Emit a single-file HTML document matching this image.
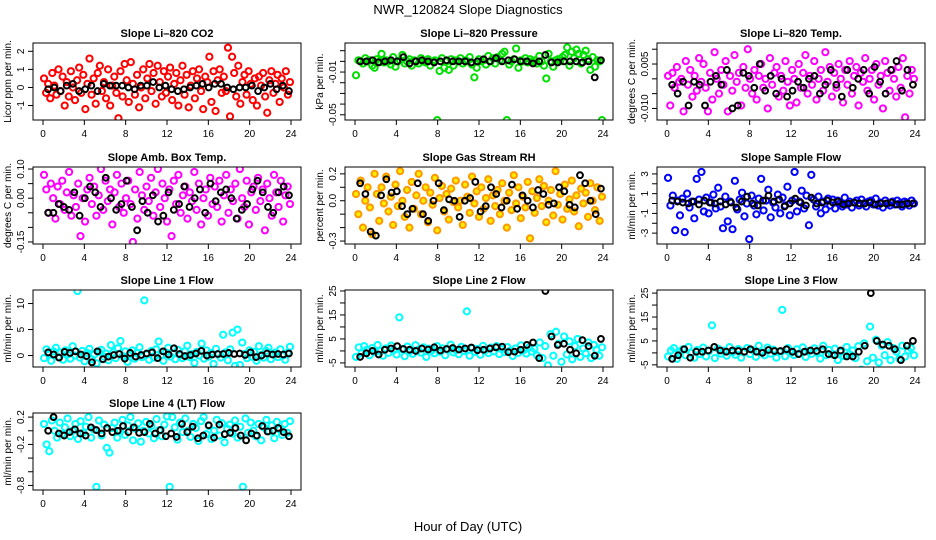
<!DOCTYPE html>
<html><head><meta charset="utf-8"><style>
html,body{margin:0;padding:0;background:#fff;}
svg{display:block;font-family:"Liberation Sans",Arial,sans-serif;}
</style></head><body>
<svg id="chart" width="936" height="540" viewBox="0 0 936 540" xmlns="http://www.w3.org/2000/svg">
<text x="468" y="14" text-anchor="middle" font-size="13">NWR_120824  Slope Diagnostics</text>
<text x="468" y="531" text-anchor="middle" font-size="13">Hour of Day (UTC)</text>
</svg>
<script>
// ---- data ----
const c1=[0.5,-0.3,0.2,-0.6,0.8,0.1,-0.4,1.0,-0.2,0.6,-1.0,0.3,-0.5,0.9,0.0,-0.7,0.4,1.1,-0.3,0.7,-1.2,0.2,1.6,-0.4,0.5,-0.9,0.8,1.2,-0.2,0.3,-0.6,1.0,-1.0,0.1,0.6,-0.3,-1.7,0.9,-0.5,1.3,0.4,-0.8,1.4,0.2,-0.4,0.7,-1.1,0.0,1.0,-0.6,0.5,1.3,-0.2,0.8,-0.9,1.2,0.3,-0.5,0.9,-0.3,0.6,1.1,-0.7,0.2,0.8,-1.0,0.4,1.2,-0.4,0.7,-1.1,0.1,0.9,-0.6,0.5,1.0,-0.2,-1.2,0.6,0.3,1.7,-0.8,0.9,-1.3,0.4,1.0,-0.3,0.6,-0.2,2.2,-1.6,1.7,0.8,-0.5,1.2,-0.9,0.3,0.7,-0.4,0.9,0.2,-0.7,0.5,-1.0,0.6,0.1,0.8,-0.5,-1.4,0.4,0.9,-0.3,0.2,0.7,-0.8,0.5,0.0,0.9,-0.4,0.3];
const b1=[-0.1,0.0,-0.2,0.1,0.2,-0.2,-0.1,0.1,-0.2,0.2,0.1,0.1,0.1,0.0,-0.1,0.1,0.1,0.3,0.0,0.1,-0.1,-0.2,-0.1,0.0,0.1,0.2,0.0,0.2,0.2,0.0,-0.1,0.0,0.0,0.1,-0.2,0.0,0.2,-0.1,0.1,-0.2];
const c2=[-0.013,0.001,0.0,-0.002,0.003,0.0,0.001,-0.004,-0.006,0.002,0.0,0.007,-0.001,0.001,0.0,-0.003,0.004,-0.005,0.0,0.001,0.006,-0.002,0.0,0.002,-0.004,0.001,0.0,-0.002,0.003,0.0,-0.001,0.002,-0.004,0.0,0.001,-0.055,-0.009,0.003,-0.006,0.0,-0.008,0.002,-0.004,0.001,0.0,0.003,-0.002,0.001,0.0,0.004,-0.003,-0.015,-0.006,0.002,0.0,0.001,-0.003,0.005,0.0,0.003,-0.002,0.004,0.001,0.007,0.009,-0.055,-0.003,0.0,0.002,0.012,-0.006,0.001,0.0,0.003,-0.001,0.002,0.0,0.001,-0.002,0.005,0.0,-0.004,-0.016,0.007,0.0,-0.005,0.001,0.002,0.0,0.004,0.006,0.013,-0.004,0.009,0.003,0.011,0.007,-0.002,0.006,0.010,0.002,-0.008,0.004,-0.005,0.001,0.0,-0.055];
const b2=[0.0,0.0,0.001,-0.001,0.0,0.001,0.0,0.004,-0.002,0.0,0.001,0.0,-0.001,0.0,0.001,0.0,0.0,0.0,-0.001,0.0,0.002,0.0,0.003,0.0,0.001,0.002,0.0,0.0,-0.002,0.0,0.006,-0.001,-0.001,0.0,0.0,0.0,-0.001,0.0,-0.015,0.001];
const c3=[0.001,-0.009,0.002,-0.003,0.004,-0.001,0.0,-0.011,0.006,-0.002,0.003,-0.006,0.001,-0.004,0.007,-0.001,0.005,-0.003,-0.011,0.002,-0.007,0.009,0.0,-0.005,0.003,-0.002,0.006,-0.011,0.001,-0.004,0.008,-0.001,0.002,-0.009,0.004,-0.003,0.010,0.0,-0.005,0.003,-0.007,0.001,0.005,-0.003,0.0,-0.010,0.007,-0.002,0.002,0.004,-0.006,0.001,-0.004,0.006,-0.001,-0.009,0.003,0.0,-0.008,0.005,-0.003,0.002,0.008,-0.005,0.001,-0.002,0.006,-0.007,0.0,0.003,-0.004,0.009,-0.001,0.004,-0.006,0.002,-0.003,0.005,0.0,-0.008,0.003,-0.002,0.006,-0.005,0.001,0.004,-0.009,0.002,-0.001,0.007,-0.004,0.0,0.003,-0.007,0.005,-0.002,0.001,-0.010,0.006,0.002,-0.004,0.003,0.0,-0.006,0.004,-0.003,0.007,-0.013,0.001,-0.005,0.003,0.0];
const b3=[-0.002,-0.005,-0.001,-0.009,-0.001,-0.002,-0.009,-0.001,0.001,-0.002,0.003,-0.010,-0.009,0.002,0.001,-0.003,0.005,-0.004,0.001,-0.005,0.0,-0.006,-0.004,-0.001,-0.003,0.0,0.001,-0.005,-0.002,0.003,-0.002,-0.006,0.003,-0.003,0.0,0.003,-0.005,0.004,-0.001,-0.005,0.003,0.006,-0.004,0.003,-0.002];
const c4=[0.08,0.03,-0.05,0.05,0.0,-0.07,0.04,-0.02,0.06,-0.04,0.02,0.09,-0.06,0.01,-0.03,0.05,-0.13,0.0,-0.08,0.03,0.07,-0.02,0.04,-0.06,0.01,0.10,-0.04,0.06,-0.01,0.03,-0.09,0.02,0.08,-0.03,0.05,-0.05,0.0,0.06,-0.02,-0.15,0.03,-0.07,0.09,0.01,-0.04,0.04,-0.01,0.07,-0.06,0.02,0.10,-0.03,0.05,0.0,-0.08,0.03,-0.13,0.06,-0.02,0.08,-0.05,0.01,0.04,-0.07,0.02,-0.01,0.09,-0.04,0.05,-0.09,0.0,0.03,-0.06,0.07,-0.02,0.04,-0.03,0.06,-0.08,0.01,0.08,-0.05,0.03,-0.01,0.05,-0.07,0.10,0.0,-0.03,0.06,-0.09,0.02,0.04,-0.04,0.07,-0.01,0.03,-0.11,0.05,0.0,-0.06,0.08,0.02,-0.03,0.06,-0.08,0.01,0.04,-0.02];
const b4=[-0.05,-0.05,-0.02,-0.03,-0.04,0.02,-0.06,0.0,0.04,0.02,-0.03,0.07,0.0,-0.04,-0.02,0.06,-0.03,-0.11,-0.01,-0.05,0.01,-0.08,-0.06,0.02,-0.04,-0.02,0.04,-0.03,0.0,0.03,-0.05,0.05,-0.01,0.02,0.03,0.0,-0.07,-0.04,-0.02,0.03,0.06,0.02,-0.03,-0.05,0.02,0.04,0.01];
const c5=[0.05,-0.1,0.15,-0.2,0.0,0.1,-0.05,-0.25,0.2,0.05,-0.15,0.1,-0.02,0.18,-0.08,0.03,-0.18,0.12,-0.04,0.22,0.0,-0.12,0.08,-0.2,0.14,-0.06,0.04,0.2,-0.1,0.0,0.1,-0.16,0.06,-0.03,0.17,-0.22,0.02,0.11,-0.08,0.05,-0.14,0.09,-0.01,0.15,-0.05,0.0,-0.18,0.12,0.03,-0.09,0.18,-0.02,0.07,-0.12,0.1,-0.06,0.02,0.16,-0.15,0.04,-0.04,0.08,-0.1,0.13,0.0,-0.2,0.06,-0.07,0.19,-0.02,0.1,-0.13,0.03,-0.05,0.14,-0.28,0.07,-0.09,0.02,0.16,-0.04,0.11,-0.16,0.0,0.08,-0.11,0.22,-0.03,0.05,-0.14,0.12,-0.06,0.01,0.15,-0.08,0.04,-0.19,0.09,-0.02,0.06,-0.12,0.13,0.0,-0.07,0.1,-0.15,0.03];
const b5=[0.13,0.05,-0.23,-0.26,0.04,0.16,0.06,0.07,-0.04,-0.1,-0.06,0.13,-0.1,-0.15,0.0,0.13,-0.07,0.01,0.0,-0.12,0.0,0.02,0.14,-0.08,-0.04,0.1,0.05,-0.05,0.0,0.12,-0.06,0.04,0.0,-0.05,0.08,0.05,-0.03,-0.02,0.1,0.07,-0.03,-0.05,0.19,0.13,0.0,-0.1,0.09];
const c6=[2.6,-0.2,0.8,-2.7,0.3,-1.2,0.5,-2.9,1.0,-0.4,0.2,-1.5,2.5,0.4,3.2,-0.8,0.6,-1.0,0.1,0.9,-0.5,1.6,-0.3,-2.5,0.7,-1.8,0.2,-2.6,2.3,-0.6,0.4,1.1,-1.3,0.0,-3.6,0.8,-0.2,-1.1,0.5,2.5,-0.7,0.3,1.4,-1.4,0.1,-0.4,0.9,-1.0,0.6,-0.2,1.7,-1.2,0.3,3.2,-0.8,0.2,1.3,-0.5,0.8,-2.2,2.9,0.4,-0.3,0.7,-1.0,0.2,-0.6,0.5,-0.2,0.4,-0.5,0.3,0.0,-0.3,0.6,-0.1,0.2,-0.4,0.1,0.3,-0.2,0.4,0.0,-0.3,0.2,0.3,-0.1,0.5,-0.2,0.1,-0.4,0.3,0.0,-0.2,0.2,-0.1,0.3,0.0,-0.3,0.2,0.1,-0.2,0.3,0.0];
const b6=[0.3,0.2,0.1,0.0,0.2,-0.1,0.3,0.1,0.0,0.2,-0.1,0.1,-0.4,0.2,0.7,0.0,-0.2,0.3,0.8,0.2,0.4,-0.3,0.0,0.5,0.1,-0.2,0.6,0.0,0.1,0.3,0.1,0.2,-0.1,0.0,0.1,0.0,0.0,0.1,-0.1,0.0,0.0,0.1,-0.1,-0.1,0.0,0.0];
const c7=[-0.5,1.2,0.3,-1.0,0.8,1.5,-0.3,0.6,-0.8,1.0,0.2,-0.6,1.8,0.0,12.4,-0.4,0.9,-1.1,0.5,1.3,-0.7,0.2,-1.5,0.7,1.1,-0.2,0.4,-0.9,2.0,0.6,-0.5,1.4,2.8,-0.1,0.8,-1.2,0.3,1.0,-0.6,0.5,1.6,-0.3,10.6,0.2,-0.8,0.9,-0.4,1.2,2.7,0.0,-1.0,0.6,1.5,-0.2,0.4,-0.7,1.1,0.1,-0.5,0.8,1.9,-0.3,0.3,-1.4,0.7,0.0,2.3,-0.6,1.0,-0.2,0.5,-1.6,1.3,0.2,-0.4,4.0,0.6,-0.9,1.2,4.4,-2.0,5.0,-1.8,2.5,0.3,-0.5,1.0,-0.2,0.7,-1.0,1.8,0.1,-0.4,0.9,1.5,-0.7,0.3,0.6,-0.3,1.2,0.0,-0.8,0.5,1.7];
const b7=[0.6,0.2,-0.4,0.7,0.5,0.8,0.2,-0.1,-1.3,0.8,-0.7,-0.2,0.1,0.3,-0.6,0.5,-0.2,0.1,0.4,0.6,-0.5,0.8,0.2,1.4,0.3,-0.1,0.1,0.4,0.9,0.0,0.2,0.3,0.3,0.5,0.3,0.4,0.1,0.6,-0.3,0.0,0.4,0.2,0.3,0.2,0.4];
const c8=[-2.5,1.5,-1.0,2.0,0.5,-1.8,1.2,-0.5,2.5,0.0,-2.0,1.0,-0.8,2.2,0.3,-1.5,14.0,0.8,-2.2,1.8,0.0,-1.2,2.4,0.5,-0.7,1.5,-2.5,0.9,0.2,-1.0,2.0,-0.3,1.1,-1.8,0.6,2.6,-0.6,0.3,-1.4,1.7,0.0,16.5,-2.0,1.2,-0.4,0.8,-1.6,2.1,0.4,-0.9,1.4,-0.2,2.0,-1.3,0.7,-0.5,1.6,0.1,-2.1,1.0,-0.8,2.3,0.3,-1.1,1.5,-0.3,0.9,-1.9,3.5,-3.0,2.0,-6.0,7.0,-2.0,8.0,3.0,-4.5,6.0,-1.5,4.0,-3.5,2.0,5.0,-2.5,1.0,-1.0,3.5,-3.0,2.5,0.5,-2.0,1.5];
const b8=[-2.5,-1.0,0.0,-1.5,0.5,1.0,2.0,0.8,0.5,0.0,1.0,0.6,1.5,0.2,0.8,1.2,0.6,1.0,1.4,0.3,0.5,1.0,1.5,1.8,-0.5,-0.3,0.5,2.5,3.5,-3.0,25.0,6.0,2.5,3.0,0.5,-1.0,4.5,2.0,-2.0,5.0];
const c9=[-1.5,1.0,2.0,-2.5,0.5,1.5,-1.0,2.5,0.0,-2.0,1.2,-0.5,2.2,-1.5,0.8,11.5,-2.2,1.8,-0.3,0.9,-1.2,2.4,0.3,-0.8,1.6,-2.0,0.6,2.0,-0.5,1.1,-1.6,3.0,0.2,-1.0,2.2,-0.3,1.3,-2.0,0.6,18.0,-1.4,2.0,0.1,-0.9,1.5,-0.2,2.3,-1.7,0.7,-0.4,1.9,0.0,-2.4,3.0,-1.0,1.2,-0.6,1.8,-3.0,0.4,-1.3,2.5,-0.5,1.0,-2.2,2.8,-7.0,4.0,-3.5,11.0,-2.0,5.5,-4.0,3.0,-1.0,4.5,-3.0,2.0,0.5,-2.5,3.0,-1.5,1.0,2.0,-1.0];
const b9=[-2.5,-1.0,1.5,-2.0,0.5,0.5,1.0,2.5,1.0,0.5,1.0,0.8,0.5,1.5,0.5,0.0,1.2,0.8,0.8,1.5,0.5,-0.5,0.5,1.0,0.8,1.5,-0.5,-1.0,1.0,-1.5,-1.5,0.5,3.0,25.0,5.0,3.5,3.0,1.5,-3.0,3.0,5.0];
const c10=[0.1,-0.2,-0.3,0.15,0.0,-0.1,0.12,-0.05,0.05,0.18,-0.08,0.0,0.1,-0.12,0.14,-0.03,0.06,0.2,-0.1,0.02,-0.82,0.15,-0.07,0.09,-0.25,-0.32,0.04,0.12,-0.1,0.0,0.16,-0.06,0.08,0.2,-0.14,0.03,0.11,-0.16,0.0,0.13,-0.04,0.07,-0.11,0.17,0.01,-0.08,0.09,0.21,-0.82,0.2,0.05,-0.13,0.12,-0.02,0.18,0.0,-0.09,0.1,0.04,-0.15,0.14,0.2,-0.05,0.07,-0.12,0.0,0.16,-0.07,0.11,-0.17,0.03,0.09,-0.04,0.15,-0.1,0.06,-0.82,0.18,-0.03,0.12,0.0,-0.08,0.1,-0.14,0.05,0.16,-0.01,0.08,-0.11,0.13,0.02,-0.06,0.1,-0.03,0.14];
const b10=[0.0,0.2,-0.04,-0.07,-0.02,0.02,-0.04,-0.07,0.05,0.01,-0.04,0.04,-0.02,0.0,0.07,-0.02,0.05,-0.03,-0.02,0.1,-0.04,0.01,-0.08,-0.04,-0.09,0.1,-0.02,0.06,-0.11,-0.07,0.08,-0.1,0.09,-0.05,-0.03,0.04,-0.07,-0.14,-0.04,-0.07,0.07,-0.01,0.0,0.04,-0.02,-0.08];
const xTicks=[0,4,8,12,16,20,24];
const titles=["Slope Li\u2013820 CO2","Slope Li\u2013820 Pressure","Slope Li\u2013820 Temp.","Slope Amb. Box Temp.","Slope Gas Stream RH","Slope Sample Flow","Slope Line 1 Flow","Slope Line 2 Flow","Slope Line 3 Flow","Slope Line 4 (LT) Flow"];
const ylabs=["Licor ppm per min.","kPa per min.","degrees C per min.","degrees C per min.","percent per min.","ml/min per min.","ml/min per min.","ml/min per min.","ml/min per min.","ml/min per min."];
const yTicks=[[-1,0,1,2],[0.01,0,-0.01,-0.02,-0.03,-0.04,-0.05],[0.01,0.005,0,-0.005,-0.01],[0.1,0.05,0,-0.05,-0.1,-0.15],[0.2,0.1,0,-0.1,-0.2,-0.3],[3,2,1,0,-1,-2,-3],[10,5,0],[25,20,15,10,5,0,-5],[25,20,15,10,5,0,-5],[0.2,0,-0.2,-0.4,-0.6,-0.8]];
const yTickLabels=[["-1","0","1","2"],["","","-0.01","","","","-0.05"],["","0.005","","","-0.010"],["0.10","","0.00","","","-0.15"],["0.2","","0.0","","","-0.3"],["3","","1","","-1","","-3"],["10","5","0"],["25","","15","","5","","-5"],["25","","15","","5","","-5"],["0.2","","-0.2","","","-0.8"]];
const colored=[c1,c2,c3,c4,c5,c6,c7,c8,c9,c10];
const means=[b1,b2,b3,b4,b5,b6,b7,b8,b9,b10];
// ---- layout (not data) ----
const ylims=[[-1.8,2.46],[-0.0549,0.0172],[-0.0139,0.0121],[-0.157,0.107],[-0.322,0.251],[-4.1,3.7],[-2.2,12.6],[-6.7,25.4],[-5.9,26.3],[-0.867,0.26]];
const colL=[33,345,657], colW=268, rowT=[43,167,290,413], rowH=77;
const colors=["#ff0000","#00e000","#ff00ff","#ff00ff","#ff9900","#0000ff","#00ffff","#00ffff","#00ffff","#00ffff"];
const svg=document.getElementById('chart');
const NS="http://www.w3.org/2000/svg";
function mk(tag,attrs,parent){const e=document.createElementNS(NS,tag);for(const k in attrs)e.setAttribute(k,attrs[k]);(parent||svg).appendChild(e);return e;}
for(let p=0;p<10;p++){
  const L=colL[p%3], T=rowT[Math.floor(p/3)], W=colW, H=rowH;
  const g=mk('g',{});
  
  
  const xs=h=>L+10+(h/24)*(W-20);
  const [y0,y1]=ylims[p];
  const ys=v=>T+H-(v-y0)/(y1-y0)*H;
  const clip=mk('clipPath',{id:'cl'+p},g);mk('rect',{x:L,y:T,width:W,height:H},clip);
  const pts=mk('g',{'clip-path':'url(#cl'+p+')'},g);
  
  
  const cv=colored[p];
  cv.forEach((v,i)=>{const h=0.1+i*23.8/(cv.length-1);
    const c=mk('circle',{cx:xs(h),cy:ys(v),r:3.1,fill:p==4?'#ffee00':'none',stroke:colors[p],'stroke-width':2},pts);
    
    });
  const bv=means[p];
  bv.forEach((v,i)=>{const h=0.5+i*23.3/(bv.length-1);
    const c=mk('circle',{cx:xs(h),cy:ys(v),r:2.9,fill:'none',stroke:'#000','stroke-width':2},pts);
    
    });
  const box=mk('rect',{x:L,y:T,width:W,height:H,fill:'none',stroke:'#000','stroke-width':1},g);
  
  
  const t=mk('text',{x:L+W/2,y:T-6,'text-anchor':'middle','font-size':11,'font-weight':'bold'},g);t.textContent=titles[p];
  
  
  xTicks.forEach(h=>{mk('line',{x1:xs(h),x2:xs(h),y1:T+H,y2:T+H+5,stroke:'#000'},g);
    const tl=mk('text',{x:xs(h),y:T+H+17,'text-anchor':'middle','font-size':10},g);tl.textContent=h;
    
    });
  yTicks[p].forEach((v,i)=>{const y=ys(v);mk('line',{x1:L-5,x2:L,y1:y,y2:y,stroke:'#000'},g);
    const lab=yTickLabels[p][i]; if(lab){const tl=mk('text',{x:0,y:0,'text-anchor':'middle','font-size':10,transform:'translate('+(L-9)+','+y+') rotate(-90)'},g);tl.textContent=lab;
    
    }});
  const yl=mk('text',{x:0,y:0,'text-anchor':'middle','font-size':10,transform:'translate('+(L-22)+','+(T+H/2)+') rotate(-90)'},g);yl.textContent=ylabs[p];
  
  
}
</script>
</body></html>
